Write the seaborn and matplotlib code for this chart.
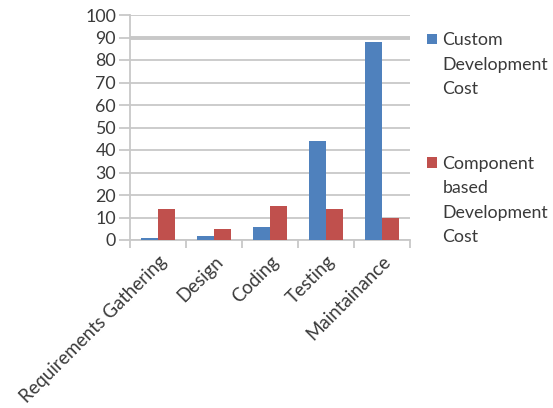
import seaborn as sns
import pandas as pd
import matplotlib.pyplot as plt
import numpy as np

phases = ['Requirements Gathering', 'Design', 'Coding', 'Testing', 'Maintainance']
custom_cost = [1, 2, 6, 44, 88]
component_cost = [14, 5, 15, 14, 10]
series_first = ['Custom', 'Component']
series_rest = [['Development', 'Cost'], ['based', 'Development', 'Cost']]
yticks = list(range(0, 101, 10))

sns.set_theme(style='white')
plt.rcParams['font.family'] = ['Lato', 'DejaVu Sans']
txt_color = '#3a3a3a'
grid_color = '#c8c8c8'
fs = 12.8

df = pd.DataFrame({
    'Phase': phases * 2,
    'Cost': custom_cost + component_cost,
    'Series': [series_first[0]] * 5 + [series_first[1]] * 5,
})

fig = plt.figure(figsize=(5.53, 4.08), dpi=100)
ax = fig.add_axes([130/553, 1-240/408, 280/553, 225/408])

ax = sns.barplot(data=df, x='Phase', y='Cost', hue='Series', ax=ax,
                 palette=['#4F81BD', '#C0504D'], width=0.6, saturation=1,
                 linewidth=0, zorder=3)

ax.set_ylim(0, 100)
ax.set_xlim(-0.5, 4.5)
ax.set_yticks(yticks)
ax.set_yticklabels([str(v) for v in yticks], fontsize=fs, color=txt_color)
ax.yaxis.grid(True, color=grid_color, linewidth=1.3, zorder=0)
ax.axhline(90, color=grid_color, linewidth=2.8, zorder=0.5)
ax.tick_params(axis='y', length=8, color=grid_color, width=1.3, pad=2, left=True)

ax.set_xticks(range(len(phases)))
ax.set_xticklabels(phases, rotation=45, ha='right', rotation_mode='anchor',
                   fontsize=13.4, color=txt_color)
ax.set_xticks(np.arange(-0.5, 5, 1), minor=True)
ax.tick_params(axis='x', which='major', length=0, pad=9)
ax.tick_params(axis='x', which='minor', length=6, color=grid_color, width=1.3, bottom=True)
ax.set_xlabel('')
ax.set_ylabel('')

for side in ['top', 'right']:
    ax.spines[side].set_visible(False)
for side in ['left', 'bottom']:
    ax.spines[side].set_color(grid_color)
    ax.spines[side].set_linewidth(1.3)

leg = ax.legend(loc='upper left', bbox_to_anchor=(1.036, 0.955), frameon=False,
                handlelength=0.55, handleheight=0.55, handletextpad=0.3,
                labelspacing=6.05, fontsize=fs, borderaxespad=0)
for t in leg.get_texts():
    t.set_color(txt_color)

# remaining lines of each wrapped legend label, 24 px apart under the first line
fig.canvas.draw()
renderer = fig.canvas.get_renderer()
W, H = fig.bbox.width, fig.bbox.height
for t, rest in zip(leg.get_texts(), series_rest):
    bb = t.get_window_extent(renderer)
    for k, line in enumerate(rest, start=1):
        fig.text(bb.x0 / W, (bb.y1 - 24.5 * k) / H, line, ha='left', va='top',
                 fontsize=fs, color=txt_color)

fig.savefig('out.png', dpi=100)
